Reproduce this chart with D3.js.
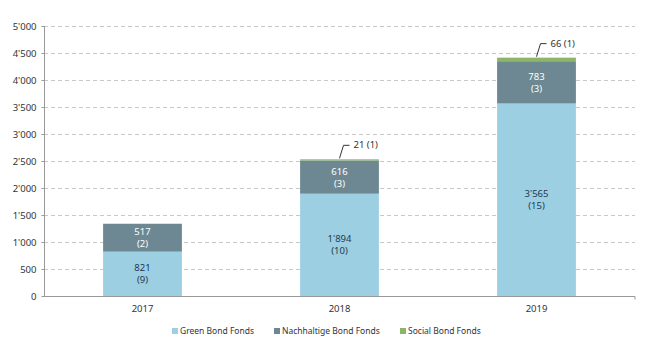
<!DOCTYPE html>
<html><head><meta charset="utf-8">
<script src="https://cdn.jsdelivr.net/npm/d3@7"></script>
<style>body{margin:0;background:#fff}svg{display:block;font-family:"Noto Sans",sans-serif}</style>
</head><body><div id="c"></div>
<script>
const years = ["2017","2018","2019"];
const greenValues = [821, 1894, 3565];
const greenCounts = [9, 10, 15];
const nachValues = [517, 616, 783];
const nachCounts = [2, 3, 3];
const socialValues = [0, 21, 66];
const socialCounts = [0, 1, 1];
const yTicks = [0,500,1000,1500,2000,2500,3000,3500,4000,4500,5000];
const seriesNames = ["Green Bond Fonds","Nachhaltige Bond Fonds","Social Bond Fonds"];
const colors = ["#9dcfe3","#6d8892","#8db56a"];

const W=650,H=355;
const svg=d3.select("#c").append("svg").attr("width",W).attr("height",H);
const loc=d3.formatLocale({decimal:".",thousands:"'",grouping:[3],currency:["",""]});
const fmt=loc.format(",d");
const x=d3.scaleBand().domain(years).range([44,635]).paddingInner(0.6).paddingOuter(0.3);
const y=d3.scaleLinear().domain([0,5000]).range([296,26]);

// grid
svg.append("g").selectAll("line").data(yTicks.filter(d=>d>0)).join("line")
 .attr("x1",44).attr("x2",635).attr("y1",d=>y(d)+0.5).attr("y2",d=>y(d)+0.5)
 .attr("stroke","#c8c8c8").attr("stroke-dasharray","4,3").attr("stroke-width",1);

const rows=years.map((yr,i)=>({year:yr,g:greenValues[i],n:nachValues[i],s:socialValues[i]}));
const stack=d3.stack().keys(["g","n","s"])(rows);
stack.forEach((layer,li)=>{
  svg.append("g").selectAll("rect").data(layer).join("rect")
   .attr("x",d=>x(d.data.year)).attr("width",x.bandwidth())
   .attr("y",d=>y(d[1])).attr("height",d=>y(d[0])-y(d[1]))
   .attr("fill",colors[li]);
});

// axes
const ya=svg.append("g").attr("transform","translate(44.5,0)")
 .call(d3.axisLeft(y).tickValues(yTicks).tickFormat(fmt).tickSize(3).tickPadding(5));
ya.select(".domain").attr("stroke","#999").attr("d","M0,26V296.5");
ya.selectAll(".tick line").attr("stroke","#999");
ya.selectAll("text").attr("font-size","9.5px").attr("fill","#333").attr("font-family","Noto Sans");
const xa=svg.append("g").attr("transform","translate(0,296.5)")
 .call(d3.axisBottom(x).tickSize(0).tickPadding(9));
xa.select(".domain").attr("stroke","#999").attr("d","M44,0H635V3");
xa.selectAll("text").attr("font-size","9.5px").attr("fill","#333").attr("font-family","Noto Sans");

// labels inside
function segLabel(layerIdx, counts, color){
  stack[layerIdx].forEach((d,i)=>{
    if(d[1]-d[0]<=0) return;
    const cx=x(d.data.year)+x.bandwidth()/2;
    const cy=(y(d[0])+y(d[1]))/2;
    const t=svg.append("text").attr("text-anchor","middle").attr("font-size","9.5px").attr("fill",color);
    t.append("tspan").attr("x",cx).attr("y",cy-2.5).text(fmt(d[1]-d[0]));
    t.append("tspan").attr("x",cx).attr("y",cy+9.5).text("("+counts[i]+")");
  });
}
segLabel(0,greenCounts,"#1e3a4a");
segLabel(1,nachCounts,"#ffffff");

// social annotations
stack[2].forEach((d,i)=>{
  if(socialValues[i]<=0) return;
  const cx=x(d.data.year)+x.bandwidth()/2;
  const top=y(d[1]);
  const g=svg.append("g");
  g.append("path").attr("d",`M${cx},${top-1}L${cx+4},${top-14}H${cx+10}`)
   .attr("fill","none").attr("stroke","#333").attr("stroke-width",1);
  g.append("text").attr("x",cx+14).attr("y",top-11).attr("font-size","9.5px").attr("fill","#333")
   .text(fmt(socialValues[i])+" ("+socialCounts[i]+")");
});

// legend
const legX=[172,274,400];
seriesNames.forEach((n,i)=>{
  svg.append("rect").attr("x",legX[i]).attr("y",328).attr("width",6).attr("height",6).attr("fill",colors[i]);
  svg.append("text").attr("x",legX[i]+8).attr("y",334).attr("font-size","8.5px").attr("fill","#333").text(n);
});
</script></body></html>
